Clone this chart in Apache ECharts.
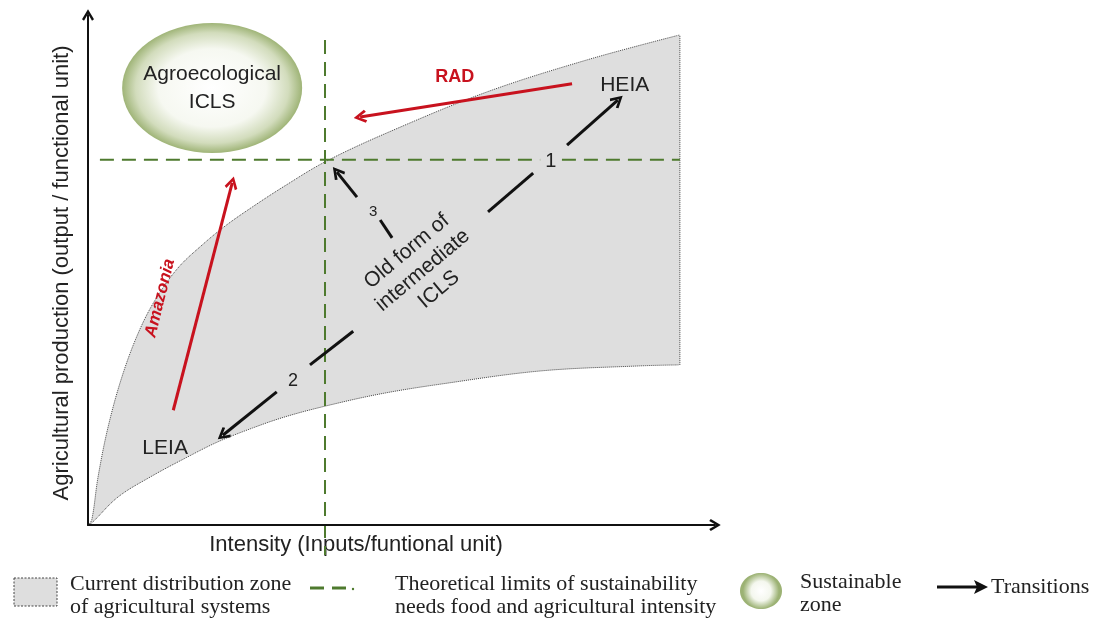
<!DOCTYPE html>
<html>
<head>
<meta charset="utf-8">
<script src="https://cdn.jsdelivr.net/npm/echarts@6/dist/echarts.min.js"></script>
<style>
  html, body { margin: 0; padding: 0; background: #fff; }
  #main { width: 1093px; height: 619px; }
</style>
</head>
<body>
<div id="main"></div>
<script>
// 坐标单位: x 0-100 (强度), y 0-100 (产量)
var upperEdge = [[0, 0], [0.6, 1.0], [1.6, 9.4], [3.2, 19.2], [5.4, 29.0], [8.0, 37.6], [10.7, 44.1], [14.35, 50.4],
    [18.2, 54.9], [21.85, 58.6], [26.2, 62.35], [31.4, 66.5], [37.8, 71.2], [47.7, 76.9], [63.6, 84.9], [79.6, 91.2], [94.4, 96.1]];
var lowerEdge = [[0, 0], [0.6, 0.4], [4.8, 5.5], [10.2, 9.6], [15.5, 13.1], [20.7, 16.3], [26.2, 19.0], [31.4, 21.2],
    [37.8, 23.3], [46.6, 25.7], [56.1, 27.6], [72.1, 30.2], [88.0, 31.2], [94.4, 31.4]];
var rightEdge = [[94.4, 31.4], [94.4, 96.1]];

// 可持续性理论极限 (虚线)
var limitV = [[37.8, 95.1], [37.8, -5.9]];
var limitH = [[1.9, 71.6], [94.4, 71.6]];

// 可持续区
var sustainZone = [[19.8, 85.7]];

// 箭头
var redArrows = [
    [[77.2, 86.5], [43.4, 80.0]],   // RAD
    [[13.6, 22.5], [23.0, 67.1]]    // Amazonia
];
var blackArrows = [
    [[76.4, 74.5], [84.5, 83.3]],   // 1
    [[30.1, 26.1], [21.5, 17.6]],   // 2
    [[42.9, 64.3], [39.7, 69.2]]    // 3
];
var blackSegs = [
    [[71.0, 69.0], [63.8, 61.4]],
    [[42.3, 38.0], [35.4, 31.4]],
    [[48.5, 56.3], [46.6, 59.8]]
];

var labelNames = ['HEIA', 'LEIA', 'RAD', 'Amazonia', 'Old form of\nintermediate\nICLS', '1', '2', '3'];
var labelPos = [[85.6, 86.3], [12.3, 15.1], [58.5, 87.8], [11.5, 44.5], [53.4, 49.9], [73.8, 71.2], [32.7, 28.2], [45.5, 61.4]];

var chevron = 'path://M0,10 L6,0 L12,10 L10,11.5 L6,4.5 L2,11.5 Z';
var green = '#4e7a2e';
var red = '#c8121e';
var serif = '22px "Liberation Serif"';

var chartDom = document.getElementById('main');
var myChart = echarts.init(chartDom);

var labelData = [];
for (let i = 0; i < labelNames.length; i++) {
    var item = { name: labelNames[i], value: labelPos[i], label: {} };
    if (labelNames[i] == 'RAD') {
        item.label = { color: red, fontWeight: 'bold', fontSize: 18 };
    } else if (labelNames[i] == 'Amazonia') {
        item.label = { color: red, fontWeight: 'bold', fontStyle: 'italic', fontSize: 17, rotate: 76 };
    } else if (labelNames[i].indexOf('Old') == 0) {
        item.label = { rotate: 40, lineHeight: 25 };
    } else if (labelNames[i] == '1') {
        item.label = { backgroundColor: '#dedede', padding: [0, 5], fontSize: 20 };
    } else if (labelNames[i] == '2') {
        item.label = { fontSize: 18 };
    } else if (labelNames[i] == '3') {
        item.label = { fontSize: 15 };
    }
    labelData.push(item);
}

function toLines(arr) {
    return arr.map(function (a) { return { coords: a }; });
}

var option = {
    animation: false,
    grid: { left: 88, right: 378, top: 15, bottom: 94 },
    xAxis: {
        type: 'value', min: 0, max: 100, z: 10,
        axisLine: { lineStyle: { color: '#111', width: 2 }, symbol: ['none', chevron], symbolSize: [12, 12] },
        axisTick: { show: false }, axisLabel: { show: false }, splitLine: { show: false }
    },
    yAxis: {
        type: 'value', min: 0, max: 100, z: 10,
        axisLine: { lineStyle: { color: '#111', width: 2 }, symbol: ['none', chevron], symbolSize: [12, 12] },
        axisTick: { show: false }, axisLabel: { show: false }, splitLine: { show: false }
    },
    graphic: [
        {
            type: 'text', x: 62, y: 273, rotation: Math.PI / 2,
            style: { text: 'Agricultural production (output / functional unit)', font: '22px "Liberation Sans"', fill: '#222', align: 'center', verticalAlign: 'middle' }
        },
        {
            type: 'text', x: 356, y: 545,
            style: { text: 'Intensity (Inputs/funtional unit)', font: '22px "Liberation Sans"', fill: '#222', align: 'center', verticalAlign: 'middle' }
        },
        // 图例
        {
            type: 'rect', shape: { x: 14, y: 578, width: 43, height: 28 },
            style: { fill: '#dedede', stroke: '#444', lineWidth: 1, lineDash: [2, 1.5] }
        },
        {
            type: 'text', x: 70, y: 573,
            style: { text: 'Current distribution zone\nof agricultural systems', font: serif, fill: '#222', lineHeight: 23 }
        },
        { type: 'line', shape: { x1: 310, y1: 588, x2: 324, y2: 588 }, style: { stroke: green, lineWidth: 3 } },
        { type: 'line', shape: { x1: 332, y1: 588, x2: 346, y2: 588 }, style: { stroke: green, lineWidth: 3 } },
        { type: 'circle', shape: { cx: 353, cy: 589, r: 1.2 }, style: { fill: green } },
        {
            type: 'text', x: 395, y: 573,
            style: { text: 'Theoretical limits of sustainability\nneeds food and agricultural intensity', font: serif, fill: '#222', lineHeight: 23 }
        },
        {
            type: 'ellipse', shape: { cx: 761, cy: 591, rx: 21, ry: 18 },
            style: {
                fill: {
                    type: 'radial', x: 0.5, y: 0.5, r: 0.5,
                    colorStops: [{ offset: 0, color: '#ffffff' }, { offset: 0.55, color: '#f4f7ee' }, { offset: 1, color: '#9cb274' }]
                }
            }
        },
        {
            type: 'text', x: 800, y: 571,
            style: { text: 'Sustainable\nzone', font: serif, fill: '#222', lineHeight: 23 }
        },
        { type: 'line', shape: { x1: 937, y1: 587, x2: 978, y2: 587 }, style: { stroke: '#111', lineWidth: 3 } },
        { type: 'polygon', shape: { points: [[974, 580], [988, 587], [974, 594], [977, 587]] }, style: { fill: '#111' } },
        {
            type: 'text', x: 991, y: 587,
            style: { text: 'Transitions', font: serif, fill: '#222', verticalAlign: 'middle' }
        }
    ],
    series: [
        {
            // 当前农业系统分布区: 上边界以下填灰
            type: 'line', data: upperEdge, smooth: 0.35, symbol: 'none', z: 1,
            lineStyle: { color: '#444', width: 1, type: 'dotted' },
            areaStyle: { color: '#dedede', opacity: 1 }
        },
        {
            // 下边界以下填白
            type: 'line', data: lowerEdge, smooth: 0.35, symbol: 'none', z: 2,
            lineStyle: { color: '#444', width: 1, type: 'dotted' },
            areaStyle: { color: '#ffffff', opacity: 1 }
        },
        {
            // 遮住右侧灰边
            type: 'line', data: [[rightEdge[0][0], 0], rightEdge[0]], symbol: 'none', z: 2,
            lineStyle: { color: '#ffffff', width: 2 }
        },
        {
            type: 'line', data: rightEdge, symbol: 'none', z: 2,
            lineStyle: { color: '#444', width: 1, type: 'dotted' }
        },
        {
            type: 'line', data: limitV, clip: false, symbol: 'none', z: 3,
            lineStyle: { color: green, width: 2, type: [14, 8] }
        },
        {
            type: 'line', data: limitH, clip: false, symbol: 'none', z: 3,
            lineStyle: { color: green, width: 2, type: [14, 8] }
        },
        {
            type: 'scatter', data: sustainZone, symbol: 'circle', symbolSize: [180, 130], z: 4,
            itemStyle: {
                opacity: 1,
                color: {
                    type: 'radial', x: 0.5, y: 0.5, r: 0.5,
                    colorStops: [{ offset: 0, color: '#ffffff' }, { offset: 0.6, color: '#f6f8f1' }, { offset: 0.85, color: '#d2dcbc' }, { offset: 1, color: '#9fb477' }]
                }
            },
            label: { show: true, formatter: 'Agroecological\nICLS', color: '#222', fontSize: 21, fontFamily: 'Liberation Sans', lineHeight: 28 }
        },
        {
            type: 'lines', coordinateSystem: 'cartesian2d', z: 5,
            data: toLines(redArrows),
            symbol: ['none', chevron], symbolSize: 13,
            lineStyle: { color: red, width: 3, opacity: 1 }
        },
        {
            type: 'lines', coordinateSystem: 'cartesian2d', z: 5,
            data: toLines(blackArrows),
            symbol: ['none', chevron], symbolSize: 13,
            lineStyle: { color: '#111', width: 3, opacity: 1 }
        },
        {
            type: 'lines', coordinateSystem: 'cartesian2d', z: 5,
            data: toLines(blackSegs),
            symbol: 'none',
            lineStyle: { color: '#111', width: 3, opacity: 1 }
        },
        {
            type: 'scatter', symbolSize: 0, z: 6,
            data: labelData,
            itemStyle: { opacity: 1 },
            label: {
                show: true, position: 'inside', formatter: '{b}', opacity: 1,
                color: '#222', fontSize: 21, fontFamily: 'Liberation Sans', align: 'center', verticalAlign: 'middle'
            }
        }
    ]
};
option && myChart.setOption(option);
</script>
</body>
</html>
